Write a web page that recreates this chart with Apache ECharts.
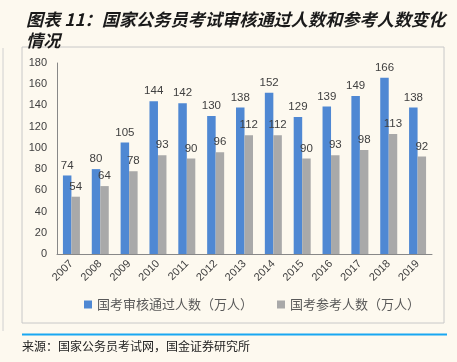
<!DOCTYPE html>
<html><head><meta charset="utf-8">
<script src="https://cdn.jsdelivr.net/npm/echarts@6/dist/echarts.min.js"></script>
<style>html,body{margin:0;padding:0;background:#fdf9ef;}#c{width:457px;height:362px;}</style>
</head><body><div id="c"></div>
<script>
var years = ['2007','2008','2009','2010','2011','2012','2013','2014','2015','2016','2017','2018','2019'];
var passed = [74,80,105,144,142,130,138,152,129,139,149,166,138];
var attended = [54,64,78,93,90,96,112,112,90,93,98,113,92];
var yTicks = [0,20,40,60,80,100,120,140,160,180];
var seriesNames = ['国考审核通过人数（万人）','国考参考人数（万人）'];

var chart = echarts.init(document.getElementById('c'));
var lbl = {show:true, position:'top', distance:4, color:'#404040', fontSize:11.5, fontFamily:'Liberation Sans, Arial, sans-serif'};
chart.setOption({
  backgroundColor:'#fdf9ef',
  animation:false,
  title:{text:'图表 11：国家公务员考试审核通过人数和参考人数变化\n情况', left:21, top:4,
    textStyle:{fontSize:17.2, fontStyle:'italic', fontWeight:'bold', color:'#1a1a1a', lineHeight:21, fontFamily:'Noto Sans CJK SC'}},
  graphic:[
    {type:'rect', shape:{x:22,y:47,width:422,height:276}, style:{fill:'none', stroke:'#c8c8c8', lineWidth:1}, silent:true},
    {type:'line', shape:{x1:3,y1:48,x2:3,y2:331}, style:{stroke:'#d0d0d0', lineWidth:1}},
    {type:'line', shape:{x1:22,y1:334.5,x2:447,y2:334.5}, style:{stroke:'#19a7f2', lineWidth:2}},
    {type:'text', left:22, top:340, style:{text:'来源：国家公务员考试网，国金证券研究所', fontSize:12, fill:'#222', fontFamily:'Noto Sans CJK SC'}}
  ],
  legend:{bottom:46, left:79, itemWidth:8, itemHeight:8, itemGap:24, itemStyle:{borderWidth:0}, icon:'rect',
    textStyle:{fontSize:13, color:'#595959', fontFamily:'Noto Sans CJK SC'}, data:seriesNames},
  grid:{left:57, right:25, top:63, bottom:108, containLabel:false},
  xAxis:{type:'category', data:years,
    axisLine:{lineStyle:{color:'#888'}}, axisTick:{show:false},
    axisLabel:{rotate:45, color:'#404040', fontSize:11, interval:0, margin:8, fontFamily:'Liberation Sans, Arial, sans-serif'}},
  yAxis:{type:'value', min:yTicks[0], max:yTicks[yTicks.length-1], interval:20,
    axisLine:{show:true, lineStyle:{color:'#888'}}, axisTick:{show:false}, splitLine:{show:false},
    axisLabel:{color:'#404040', fontSize:11, margin:10, fontFamily:'Liberation Sans, Arial, sans-serif'}},
  series:[
    {name:seriesNames[0], type:'bar', data:passed, barWidth:8.5, barGap:'0%', itemStyle:{color:'#4f88d3'}, label:lbl},
    {name:seriesNames[1], type:'bar', data:attended, barWidth:8.5, itemStyle:{color:'#a9a9a9'}, label:lbl}
  ]
});
</script></body></html>
